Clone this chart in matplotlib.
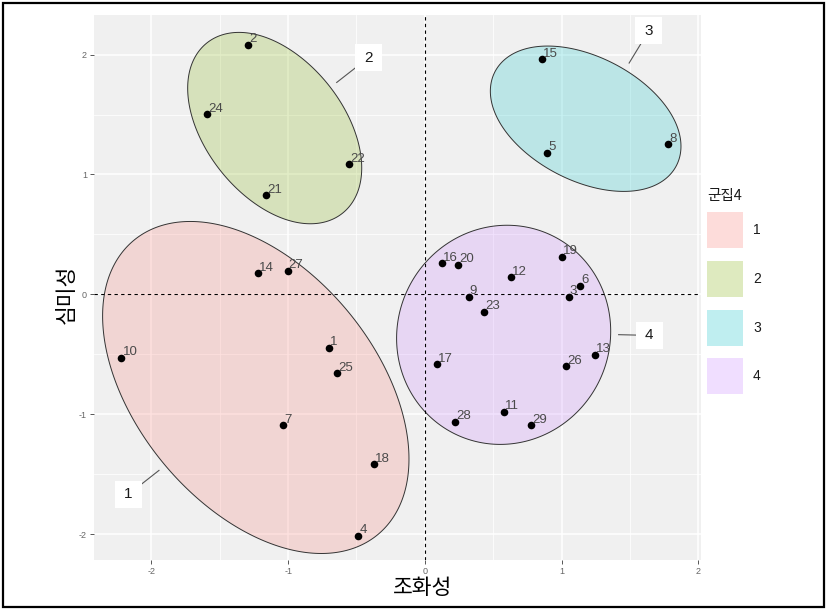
import numpy as np
import matplotlib
matplotlib.use("Agg")
import matplotlib.pyplot as plt
from matplotlib.colors import to_rgba
from matplotlib.patches import Polygon, Rectangle

plt.rcParams["font.family"] = ["Liberation Sans", "Noto Sans CJK KR"]

# Data: case number, 조화성 (x), 심미성 (y), cluster.
case_id = list(range(1, 30))
harmony = [-0.704, -1.293, 1.051, -0.488, 0.895, 1.136, -1.037, 1.778, 0.320, -2.219,
           0.576, 0.627, 1.244, -1.219, 0.856, 0.122, 0.088, -0.371, 1.000, 0.244,
           -1.163, -0.554, 0.434, -1.593, -0.642, 1.031, -1.004, 0.219, 0.775]
aesthetic = [-0.447, 2.080, -0.022, -2.013, 1.182, 0.070, -1.092, 1.252, -0.019, -0.528,
             -0.978, 0.143, -0.503, 0.176, 1.961, 0.259, -0.583, -1.417, 0.314, 0.248,
             0.827, 1.085, -0.147, 1.502, -0.658, -0.600, 0.198, -1.062, -1.092]
cluster = [1, 2, 4, 1, 3, 4, 1, 3, 4, 1,
           4, 4, 4, 1, 3, 4, 4, 1, 4, 4,
           2, 2, 4, 2, 1, 4, 1, 4, 4]
cluster_names = ["1", "2", "3", "4"]
cluster_colors = ["#F8766D", "#7CAE00", "#00BFC4", "#C77CFF"]
ticks = [-2, -1, 0, 1, 2]
tick_labels = ["-2", "-1", "0", "1", "2"]

harmony = np.array(harmony)
aesthetic = np.array(aesthetic)
cluster = np.array(cluster)

W, H = 827, 611
fig = plt.figure(figsize=(W / 100, H / 100), dpi=100)


def fx(px):
    return px / W


def fy(py):
    return 1 - py / H


ax = fig.add_axes([fx(94), fy(560), (701 - 94) / W, (560 - 15) / H])
ax.set_xlim(-2.42, 2.02)
ax.set_ylim(-2.215, 2.33)
ax.set_facecolor("#F0F0F0")
for s in ax.spines.values():
    s.set_visible(False)
ax.set_xticks(ticks)
ax.set_xticklabels(tick_labels)
ax.set_yticks(ticks)
ax.set_yticklabels(tick_labels)
ax.set_xticks([-1.5, -0.5, 0.5, 1.5], minor=True)
ax.set_yticks([-1.5, -0.5, 0.5, 1.5], minor=True)
ax.grid(which="major", color="white", lw=1.1)
ax.grid(which="minor", color="white", lw=0.55)
ax.set_axisbelow(True)
ax.tick_params(which="major", length=3, width=0.7, color="#555555",
               labelsize=6.5, labelcolor="#666666", pad=2)
ax.tick_params(which="minor", length=0)


# Minimum enclosing ellipse (Khachiyan), computed in pixel space
def enclosing_ellipse(P, tol=0.01):
    n, d = P.shape
    Q = np.column_stack([P, np.ones(n)]).T
    u = np.full(n, 1.0 / n)
    err = tol + 1
    while err > tol:
        X = (Q * u) @ Q.T
        M = np.sum(Q * np.linalg.solve(X, Q), axis=0)
        j = np.argmax(M)
        step = (M[j] - d - 1) / ((d + 1) * (M[j] - 1))
        nu = (1 - step) * u
        nu[j] += step
        err = np.linalg.norm(nu - u)
        u = nu
    c = P.T @ u
    A = np.linalg.inv((P.T * u) @ P - np.outer(c, c)) / d
    return c, A


expand_px = 13
to_disp = ax.transData
to_data = ax.transData.inverted()
t = np.linspace(0, 2 * np.pi, 400)
circ = np.vstack([np.cos(t), np.sin(t)])
outlines = {}
for k, (name, col) in enumerate(zip(cluster_names, cluster_colors), start=1):
    m = cluster == k
    P = to_disp.transform(np.column_stack([harmony[m], aesthetic[m]]))
    c, A = enclosing_ellipse(P)
    w, V = np.linalg.eigh(A)
    E = c[:, None] + V @ (circ / np.sqrt(w)[:, None])
    N = A @ (E - c[:, None])
    N = N / np.linalg.norm(N, axis=0)
    E = (E + expand_px * N).T
    outlines[k] = E
    ax.add_patch(Polygon(to_data.transform(E), closed=True,
                         facecolor=to_rgba(col, 0.22), edgecolor="#333333",
                         lw=0.7, zorder=2))

ax.axhline(0, color="black", ls=(0, (3, 3)), lw=0.8, zorder=3)
ax.axvline(0, color="black", ls=(0, (3, 3)), lw=0.8, zorder=3)

ax.scatter(harmony, aesthetic, s=30, c="black", zorder=4, linewidths=0)
for i, x, y in zip(case_id, harmony, aesthetic):
    ax.annotate(str(i), (x, y), xytext=(0.8, 1.9), textcoords="offset points",
                ha="left", va="baseline", fontsize=9.5, color="#4a4a4a", zorder=5)

# cluster tags in white boxes with connectors
tag_pos = {1: (-2.167, -1.667), 2: (-0.413, 1.974), 3: (1.639, 2.200), 4: (1.642, -0.342)}
half = 13.5
gap = 8
for k, (tx, ty) in tag_pos.items():
    b = to_disp.transform((tx, ty))
    E = outlines[k]
    p = E[np.argmin(np.hypot(E[:, 0] - b[0], E[:, 1] - b[1]))]
    v = p - b
    dist = np.hypot(*v)
    start = b + v * half / max(abs(v[0]), abs(v[1]))
    end = p - v / dist * gap
    seg = to_data.transform(np.array([start, end]))
    ax.plot(seg[:, 0], seg[:, 1], color="#555555", lw=0.8, zorder=5)
    lo = to_data.transform(b - half)
    hi = to_data.transform(b + half)
    ax.add_patch(Rectangle(lo, hi[0] - lo[0], hi[1] - lo[1], facecolor="white",
                           edgecolor="none", zorder=6))
    ax.text(tx, ty, cluster_names[k - 1], ha="center", va="center", fontsize=11,
            color="#1a1a1a", zorder=7)

# axis titles
fig.text(fx(423), fy(588), "조화성", ha="center", va="center", fontsize=15.5,
         family=["Noto Sans CJK KR"])
fig.text(fx(67), fy(294), "심미성", ha="center", va="center", fontsize=15.5,
         rotation=90, family=["Noto Sans CJK KR"])

# legend
fig.text(fx(707), fy(196), "군집4", ha="left", va="center", fontsize=10.5,
         family=["Noto Sans CJK KR"], color="#1a1a1a")
for j, (name, col) in enumerate(zip(cluster_names, cluster_colors)):
    top = 212 + j * 48.8
    fig.add_artist(Rectangle((fx(707), fy(top + 36)), 36 / W, 36 / H,
                             transform=fig.transFigure, facecolor=to_rgba(col, 0.25),
                             edgecolor="none"))
    fig.text(fx(753), fy(top + 18), name, ha="left", va="center", fontsize=10,
             color="#1a1a1a")

# outer frame
fig.add_artist(Rectangle((fx(2.5), fy(606.5)), 821 / W, 604 / H, transform=fig.transFigure,
                         fill=False, edgecolor="black", lw=1.6))

fig.savefig("out.png", dpi=100)
